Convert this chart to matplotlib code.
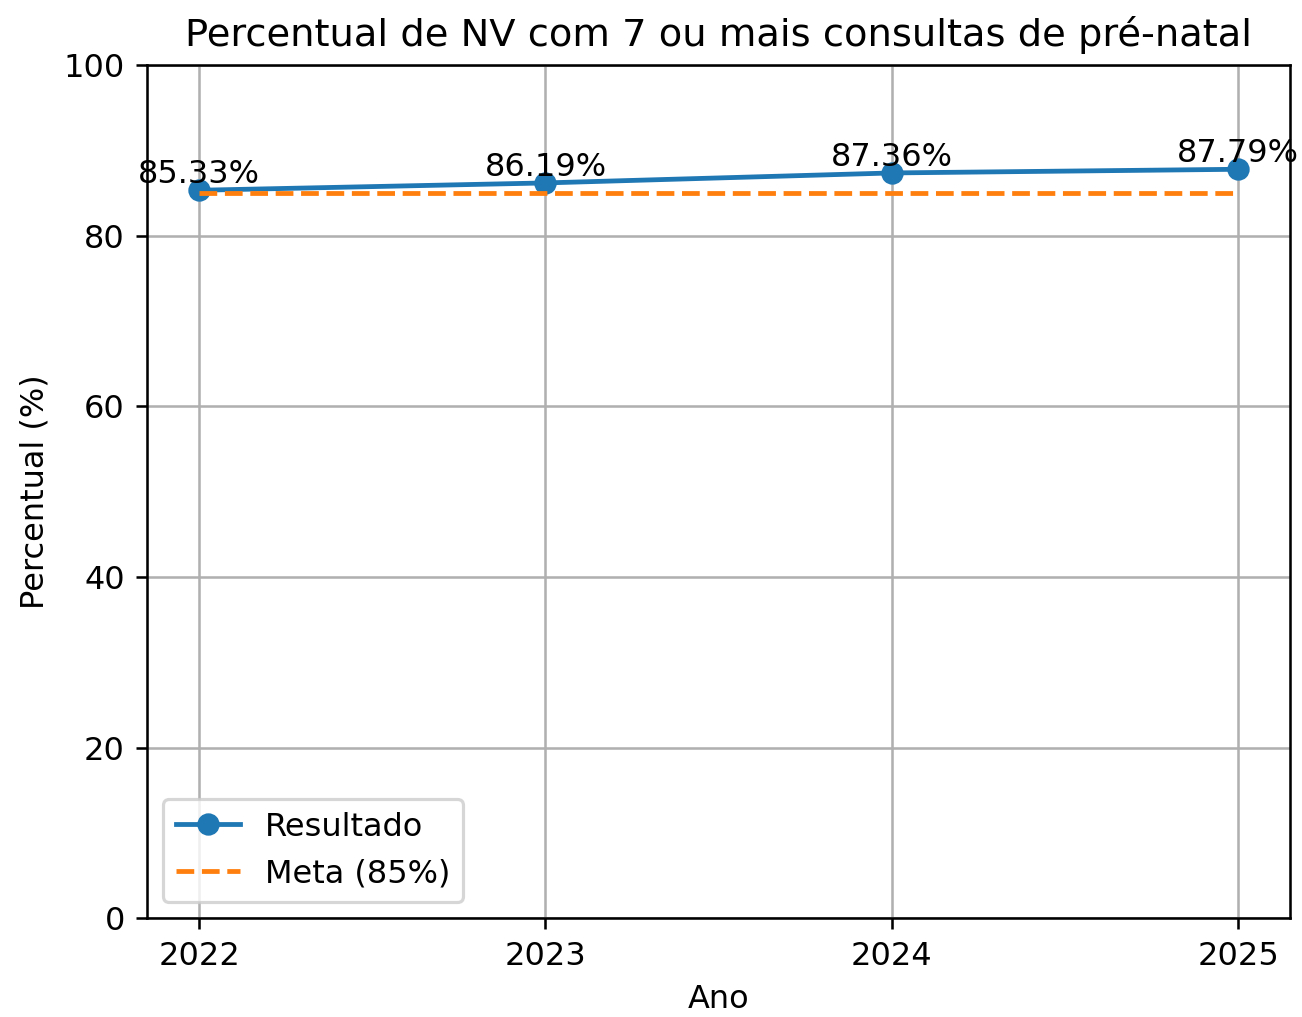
import matplotlib.pyplot as plt

anos = [2022, 2023, 2024, 2025]
resultado = [85.33, 86.19, 87.36, 87.79]
meta = [85, 85, 85, 85]

dpi = 230
fig = plt.figure(figsize=(1302 / dpi, 1017 / dpi), dpi=dpi)
ax = fig.add_axes([0.113, 0.097, 0.878, 0.839])

ax.plot(anos, resultado, marker="o", label="Resultado")
ax.plot(anos, meta, linestyle="--", label="Meta (85%)")

for x, y in zip(anos, resultado):
    ax.text(x, y, f"{y:.2f}%", ha="center", va="bottom")

ax.set_title("Percentual de NV com 7 ou mais consultas de pré-natal")
ax.set_xlabel("Ano")
ax.set_ylabel("Percentual (%)")
ax.set_xticks(anos)
ax.set_ylim(0, 100)
ax.legend(loc="lower left")
ax.grid(True)

fig.savefig("out.png", dpi=dpi)
